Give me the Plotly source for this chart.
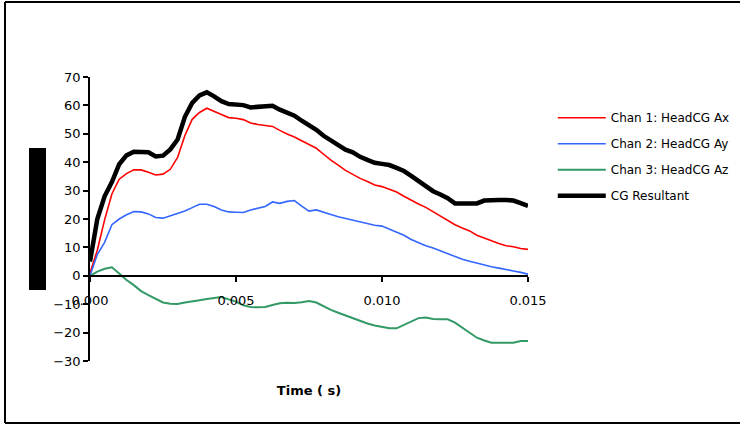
import plotly.graph_objects as go

# Sample times (s)
time_s = [i * 0.00025 for i in range(61)]

chan1_ax = [1, 9, 19.7, 28.8, 34, 36, 37.3, 37.3, 36.5, 35.5, 35.8, 37.5, 41.7, 49.4, 55.1, 57.5,
            59, 58, 56.8, 55.7, 55.5, 55, 53.8, 53.3, 53, 52.6, 51.2, 49.9, 48.9, 47.6, 46.4,
            44.9, 42.8, 40.7, 39, 37.1, 35.7, 34.3, 33.2, 32, 31.4, 30.4, 29.5, 28, 26.5, 25.3,
            24.1, 22.6, 20.8, 19.4, 18, 16.8, 15.8, 14.3, 13.2, 12.3, 11.4, 10.6, 10.2, 9.6, 9.3]

chan2_ay = [0, 7.5, 11.8, 18, 20, 21.5, 22.6, 22.5, 21.8, 20.5, 20.3, 21.2, 22, 22.8, 24, 25.2,
            25.2, 24.4, 23.2, 22.5, 22.4, 22.3, 23.2, 23.8, 24.4, 26, 25.5, 26.2, 26.5, 24.5, 22.8,
            23.2, 22.3, 21.6, 20.8, 20.2, 19.6, 18.9, 18.4, 17.8, 17.5, 16.5, 15.5, 14.3, 12.8, 11.7,
            10.6, 9.8, 8.8, 7.6, 6.6, 5.8, 5.1, 4.4, 3.7, 3.2, 2.7, 2.1, 1.7, 1.2, 0.6]

chan3_az = [0, 1.5, 2.5, 3, 0.8, -1.5, -3.3, -5.4, -6.8, -8.2, -9.4, -9.8, -9.9, -9.4, -8.9, -8.6,
            -8.2, -7.8, -7.5, -8.3, -9.1, -10.4, -11, -11.1, -11, -10.3, -9.7, -9.5, -9.6, -9.3, -8.9,
            -9.4, -10.8, -12, -13, -14, -15, -16, -16.8, -17.5, -17.9, -18.5, -18.5, -17.3, -15.9, -14.9,
            -14.7, -15.2, -15.3, -15.3, -16.5, -18.3, -20.2, -21.8, -22.8, -23.6, -23.6, -23.6, -23.6, -23, -23]

cg_resultant = [5, 20, 28, 33, 39.3, 42.4, 43.7, 43.7, 43.5, 42, 42.3, 44.5, 48, 56, 60.9, 63.5,
                64.6, 63.2, 61.5, 60.5, 60.4, 60.1, 59.3, 59.5, 59.6, 59.9, 58.5, 57.3, 56.4, 54.6, 53.1,
                51.4, 49.3, 47.6, 45.8, 44.4, 43.5, 41.9, 40.8, 39.8, 39.4, 39, 38, 36.9, 35.2, 33.5,
                31.5, 29.8, 28.6, 27.3, 25.5, 25.5, 25.5, 25.5, 26.5, 26.7, 26.7, 26.7, 26.5, 25.6, 24.6]

series_names = ["Chan 1: HeadCG Ax", "Chan 2: HeadCG Ay", "Chan 3: HeadCG Az", "CG Resultant"]
series_values = [chan1_ax, chan2_ay, chan3_az, cg_resultant]
series_colors = ["#FF0000", "#3366FF", "#339966", "#000000"]
series_widths = [1.6, 1.6, 2, 4.5]

y_ticks = list(range(-30, 80, 10))
x_ticks = [0.0, 0.005, 0.010, 0.015]
x_tick_labels = ["0.000", "0.005", "0.010", "0.015"]

FONT = "DejaVu Sans"

fig = go.Figure()
for i, (name, vals, col, w) in enumerate(zip(series_names, series_values, series_colors, series_widths)):
    fig.add_trace(go.Scatter(
        x=time_s, y=vals, mode="lines", name=name,
        line=dict(color=col, width=w),
        legendgroup=f"g{i}",
    ))

fig.update_layout(
    width=740, height=425,
    margin=dict(l=90, r=212, t=77, b=64, autoexpand=False),
    paper_bgcolor="white", plot_bgcolor="white",
    font=dict(family=FONT, size=13, color="black"),
    showlegend=True,
    legend=dict(
        xref="container", yref="container",
        x=0.747, y=0.757, xanchor="left", yanchor="top",
        font=dict(family=FONT, size=12, color="black"),
        traceorder="grouped", tracegroupgap=7,
        itemwidth=48,
        bgcolor="rgba(0,0,0,0)",
    ),
    xaxis=dict(
        range=[0, 0.015], tickvals=x_ticks, ticktext=x_tick_labels,
        showgrid=False, zeroline=False,
        showline=True, linecolor="black", linewidth=1.5,
        ticks="outside", ticklen=5, tickwidth=1.5, tickcolor="black",
        anchor="free", position=0.3,
        ticklabelstandoff=8,
        title=dict(text="<b>Time ( s)</b>", font=dict(family=FONT, size=13), standoff=78),
    ),
    yaxis=dict(
        range=[-30, 70], tickvals=y_ticks,
        showgrid=False, zeroline=False,
        showline=True, linecolor="black", linewidth=1.5,
        ticks="outside", ticklen=5, tickwidth=1.5, tickcolor="black",
    ),
    shapes=[
        # outer frame (top, left, bottom edges)
        dict(type="line", xref="paper", yref="paper", x0=(5 - 90) / 438, x1=(740 - 90) / 438,
             y0=(361 - 2) / 284, y1=(361 - 2) / 284, line=dict(color="black", width=2)),
        dict(type="line", xref="paper", yref="paper", x0=(5 - 90) / 438, x1=(5 - 90) / 438,
             y0=(361 - 2) / 284, y1=(361 - 423) / 284, line=dict(color="black", width=2)),
        dict(type="line", xref="paper", yref="paper", x0=(5 - 90) / 438, x1=(740 - 90) / 438,
             y0=(361 - 423) / 284, y1=(361 - 423) / 284, line=dict(color="black", width=2)),
        # solid block in place of the y-axis title
        dict(type="rect", xref="paper", yref="paper", x0=(29 - 90) / 438, x1=(46 - 90) / 438,
             y0=0.25, y1=0.75, fillcolor="black", line=dict(width=0)),
    ],
)

fig.write_html("out.html")
